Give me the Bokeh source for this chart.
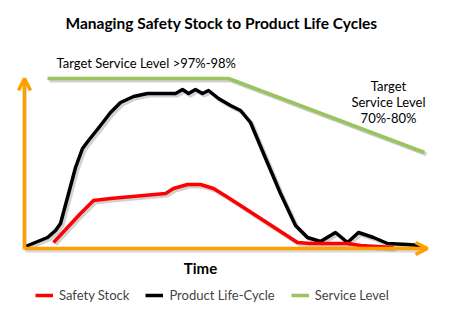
import numpy as np
from bokeh.plotting import figure
from bokeh.models import Range1d, Arrow, OpenHead, Legend, LegendItem
from bokeh.core.properties import value
from bokeh.embed import file_html
from bokeh.resources import INLINE

# ---- data (time units, level units) ----
life_t = [1, 23, 31, 36, 43, 51, 58, 64, 76, 86, 96, 109, 123, 151, 158, 164, 171, 178, 184,
          194, 206, 216, 226, 239, 256, 271, 283, 296, 311, 323, 334, 349, 363, 383, 396]
life_l = [2, 11, 18, 25, 51, 81, 100, 108, 123, 136, 146, 152, 155, 155, 159, 155, 159, 155, 158,
          150, 143, 138, 126, 95, 55, 23, 11, 7, 16, 6, 16, 11, 5, 4, 3]

safety_t = [29, 43, 56, 69, 86, 141, 149, 163, 176, 189, 202, 216, 273, 286, 306, 323, 336, 369]
safety_l = [6, 21, 35, 48, 50, 55, 60, 64, 64, 60, 52, 43, 6, 5, 5, 5, 3, 1]

service_t = [23, 204, 400]
service_l = [170, 170, 96]

axis_time_end = 403
axis_level_end = 170

title_text = "Managing Safety Stock to Product Life Cycles"
high_target = "Target Service Level >97%-98%"
low_target = ["Target", "Service Level", "70%-80%"]
x_label = "Time"
series_names = ["Safety Stock", "Product Life-Cycle", "Service Level"]

RED = "#FF0000"
BLACK = "#000000"
GREEN = "#9BC35E"
ORANGE = "#FFA000"
FONT = "Lato"

p = figure(width=453, height=323, output_backend="svg", toolbar_location=None,
           x_range=Range1d(-24, 429), y_range=Range1d(-75, 248), min_border=0)
p.axis.visible = False
p.grid.visible = False
p.outline_line_color = None
p.background_fill_color = "white"

# shadows
def shadow(t, l):
    p.line(np.array(t) + 2, np.array(l) - 2, line_color="#000000", line_alpha=0.18,
           line_width=4, line_join="round")

shadow(service_t, service_l)
shadow(life_t, life_l)
shadow(safety_t, safety_l)
p.line([0, 0], [-2, axis_level_end - 4], line_color="#000000", line_alpha=0.15, line_width=4)
p.line([1, axis_time_end - 4], [-2, -2], line_color="#000000", line_alpha=0.15, line_width=4)

# orange axes
p.add_layout(Arrow(x_start=0, y_start=0, x_end=0, y_end=axis_level_end,
                   line_color=ORANGE, line_width=3.5,
                   end=OpenHead(line_color=ORANGE, line_width=3.5, size=12)))
p.add_layout(Arrow(x_start=0, y_start=0, x_end=axis_time_end, y_end=0,
                   line_color=ORANGE, line_width=3.5,
                   end=OpenHead(line_color=ORANGE, line_width=3.5, size=12)))

r_service = p.line(service_t, service_l, line_color=GREEN, line_width=3.5)
r_life = p.line(life_t, life_l, line_color=BLACK, line_width=3.5, line_join="round")
r_safety = p.line(safety_t, safety_l, line_color=RED, line_width=3.5, line_join="round")

# texts
p.text(x=[197], y=[226], text=[title_text], text_font=value(FONT), text_font_style="bold",
       text_font_size="15.5px", text_align="center", text_baseline="middle", text_color="black")
p.text(x=[32], y=[186], text=[high_target], text_font=value(FONT),
       text_font_size="13px", text_align="left", text_baseline="middle", text_color="black")
p.text(x=[364, 364, 364], y=[163, 147, 131], text=low_target, text_font=value(FONT),
       text_font_size="13px", text_align="center", text_baseline="middle", text_color="black")
p.text(x=[176], y=[-19], text=[x_label], text_font=value(FONT), text_font_style="bold",
       text_font_size="15px", text_align="center", text_baseline="middle", text_color="black")

legend = Legend(items=[LegendItem(label=series_names[0], renderers=[r_safety]),
                       LegendItem(label=series_names[1], renderers=[r_life]),
                       LegendItem(label=series_names[2], renderers=[r_service])],
                orientation="horizontal", location=(35, 20), glyph_width=18, glyph_height=14,
                label_text_font=FONT, label_text_font_size="13px", padding=0, margin=0,
                spacing=16, label_standoff=6, background_fill_alpha=0, border_line_color=None)
p.add_layout(legend)

open("out.html", "w").write(file_html(p, INLINE))
